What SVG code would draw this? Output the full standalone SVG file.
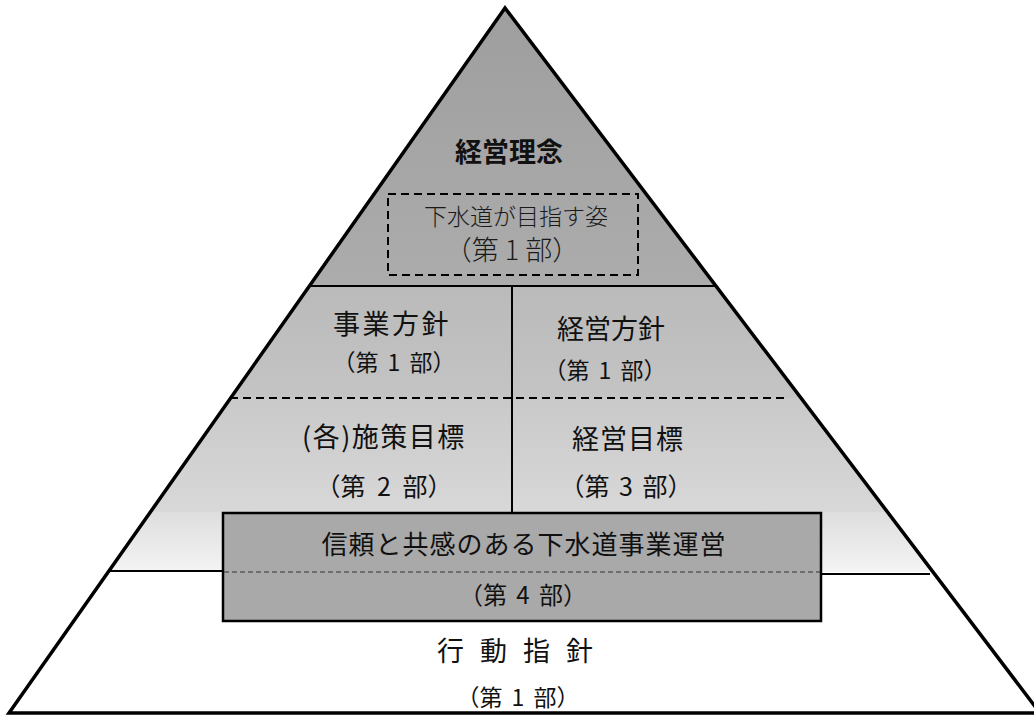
<svg xmlns="http://www.w3.org/2000/svg" width="1034" height="716" viewBox="0 0 1034 716">
<style>
.t{font-family:"Noto Sans CJK JP","Noto Sans",sans-serif;fill:#111;text-anchor:middle}
.m{font-family:"Noto Sans CJK JP","Noto Sans",sans-serif;fill:#1a1a1a;text-anchor:middle;font-weight:300}
.p{font-family:"Noto Sans CJK JP","Noto Sans",sans-serif;fill:#111;text-anchor:middle;word-spacing:4px}
.edge{fill:none;stroke:#000;stroke-width:3.5;stroke-linejoin:miter}
.solid{stroke:#000;stroke-width:2}
.dash{stroke:#000;stroke-width:2;stroke-dasharray:8 5;fill:none}
.fine{stroke:#333;stroke-width:1.2;stroke-dasharray:5 3;fill:none}
</style>
<defs>
<clipPath id="tri"><polygon points="505,8 9,713 1040,713"/></clipPath>
<linearGradient id="g1" x1="0" y1="0" x2="0" y2="1"><stop offset="0" stop-color="#9e9e9e"/><stop offset="1" stop-color="#acacac"/></linearGradient>
<linearGradient id="g2" x1="0" y1="0" x2="0" y2="1"><stop offset="0" stop-color="#bababa"/><stop offset="1" stop-color="#c4c4c4"/></linearGradient>
<linearGradient id="g3" x1="0" y1="0" x2="0" y2="1"><stop offset="0" stop-color="#c9c9c9"/><stop offset="1" stop-color="#d8d8d8"/></linearGradient>
<linearGradient id="g4" x1="0" y1="0" x2="0" y2="1"><stop offset="0" stop-color="#dedede"/><stop offset="1" stop-color="#f4f4f4"/></linearGradient>
</defs>
<rect width="1034" height="716" fill="#fff"/>
<g id="fills" clip-path="url(#tri)">
<rect x="0" y="0" width="1034" height="286" fill="url(#g1)"/>
<rect x="0" y="286" width="1034" height="112" fill="url(#g2)"/>
<rect x="0" y="398" width="1034" height="114" fill="url(#g3)"/>
<rect x="0" y="512" width="1034" height="60" fill="url(#g4)"/>
</g>
<g id="pyramid">
<polygon class="edge" points="505,8 9,713 1040,713"/>
</g>
<g id="connectors">
<line class="solid" x1="309" y1="286" x2="715" y2="286"/>
<line class="solid" x1="512" y1="286" x2="512" y2="513"/>
<line class="dash" x1="230" y1="398" x2="786" y2="398"/>
<line class="solid" x1="110" y1="571" x2="223" y2="571"/>
<line class="solid" x1="821" y1="574" x2="930" y2="574"/>
</g>
<g id="node-rinen">
<rect class="dash" x="388" y="194" width="250" height="81"/>
<text class="t" x="509" y="162" font-size="27" font-weight="bold">経営理念</text>
<text class="m" x="516" y="225" font-size="23">下水道が目指す姿</text>
<text class="m" x="512" y="260" font-size="27">（第 1 部）</text>
</g>
<g id="node-jigyo">
<text class="t" x="392" y="334" font-size="27" letter-spacing="2.5">事業方針</text>
<text class="p" x="394" y="371" font-size="23">（第 1 部）</text>
</g>
<g id="node-keiei">
<text class="t" x="611" y="339" font-size="27">経営方針</text>
<text class="p" x="605" y="379" font-size="23">（第 1 部）</text>
</g>
<g id="node-shisaku">
<text class="t" x="384" y="447" font-size="27" letter-spacing="1.5">(各)施策目標</text>
<text class="p" x="384" y="496" font-size="25" style="word-spacing:6px">（第 2 部）</text>
</g>
<g id="node-mokuhyo">
<text class="t" x="628" y="449" font-size="27" letter-spacing="1">経営目標</text>
<text class="p" x="626" y="496" font-size="25">（第 3 部）</text>
</g>
<g id="node-unei">
<rect x="223" y="513" width="598" height="108" fill="#a9a9a9" stroke="#000" stroke-width="2.5"/>
<line class="fine" x1="224" y1="572" x2="820" y2="572"/>
<text class="t" x="524" y="554" font-size="26" letter-spacing="1">信頼と共感のある下水道事業運営</text>
<text class="p" x="523" y="604" font-size="24">（第 4 部）</text>
</g>
<g id="node-kodo">
<text class="t" x="523" y="661" font-size="27" letter-spacing="16">行動指針</text>
<text class="p" x="518" y="706" font-size="23">（第 1 部）</text>
</g>
</svg>
